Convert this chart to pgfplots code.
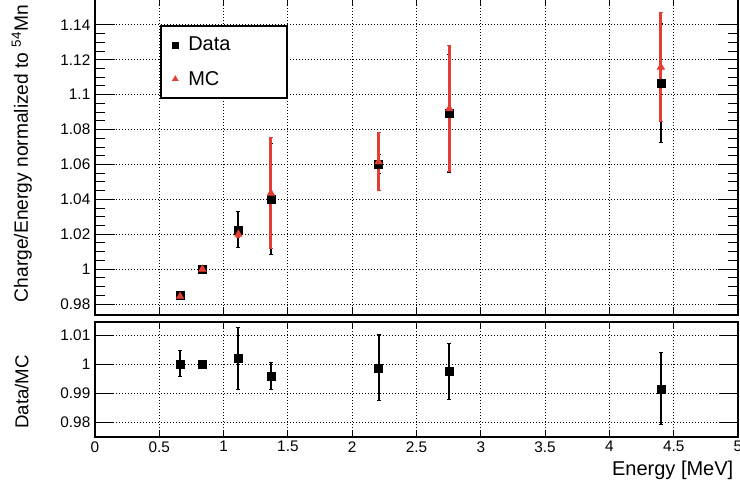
\documentclass[border=0pt]{standalone}
\usepackage{fontspec}
\setmainfont{Liberation Sans}
\usepackage{pgfplots}
\pgfplotsset{compat=1.18}
\definecolor{mcred}{RGB}{228,62,52}
\begin{document}
\begin{tikzpicture}
\pgfplotsset{
  rootframe/.style={
    scale only axis,
    width=482.25pt,
    xmin=0, xmax=5,
    axis line style={line width=1.5pt},
    tick align=inside,
    tick style={black, line width=0.75pt},
    grid=major,
    major grid style={black, line width=0.75pt, dash pattern=on 0.75pt off 1.5pt},
    /pgf/number format/assume math mode=true,
    tick label style={font=\fontsize{11.5}{13}\selectfont},
    xtick={0,0.5,1,1.5,2,2.5,3,3.5,4,4.5,5},
  },
  sqlegend/.style={legend image code/.code={\path (0pt,0pt) (14pt,0pt); \draw[##1, mark size=2.25pt] plot coordinates {(7pt,0pt)};}},
  trlegend/.style={legend image code/.code={\path (0pt,0pt) (14pt,0pt); \draw[##1, mark size=2.6pt] plot coordinates {(7pt,0pt)};}},
}
% ---------------- top panel ----------------
\begin{axis}[rootframe,
  at={(71.25pt,-236.25pt)}, anchor=south west,
  height=238.5pt,
  ymin=0.9737, ymax=1.156,
  ytick={0.98,1,1.02,1.04,1.06,1.08,1.1,1.12,1.14},
  minor y tick num=3,
  major tick length=15pt,
  minor tick length=7.5pt,
  xtick style={/pgfplots/major tick length=6pt},
  xticklabels={},
  ylabel={Charge/Energy normalized to \textsuperscript{54}Mn},
  ylabel style={at={(axis description cs:-0.114,0.508)}, anchor=center, font=\fontsize{14.4}{17}\selectfont},
  legend style={at={(axis description cs:0.101,0.912)}, anchor=north west,
    draw=black, line width=1.5pt, font=\fontsize{15}{18}\selectfont,
    inner xsep=3pt, inner ysep=6.25pt, row sep=9.75pt},
  legend cell align=left,
]
\addplot[only marks, mark=square*, mark size=3pt, black,
  mark options={line width=0.3pt}, sqlegend,
  error bars/.cd, y dir=both, y explicit,
  error bar style={black, line width=1.5pt},
  error mark options={rotate=90, black, mark size=1.5pt, line width=0.75pt}]
  coordinates {
  (0.662,0.9848) +- (0,0.0015)
  (0.835,1.0000) +- (0,0.0005)
  (1.115,1.0226) +- (0,0.0103)
  (1.368,1.0400) +- (0,0.0319)
  (2.205,1.0603) +- (0,0.0055)
  (2.755,1.0893) +- (0,0.0340)
  (4.400,1.1066) +- (0,0.0341)
  };
\addlegendentry{\makebox[69pt][l]{Data}}
\addplot[only marks, mark=triangle*, mark size=3.3pt, mcred,
  mark options={line width=0.3pt}, trlegend,
  error bars/.cd, y dir=both, y explicit,
  error bar style={mcred, line width=2.2pt},
  error mark options={rotate=90, mcred, mark size=1.5pt, line width=0.75pt}]
  coordinates {
  (0.662,0.9843) +- (0,0.0010)
  (0.835,1.0000) +- (0,0.0003)
  (1.115,1.0200) +- (0,0.0020)
  (1.368,1.0435) +- (0,0.0317)
  (2.205,1.0615) +- (0,0.0167)
  (2.755,1.0920) +- (0,0.0360)
  (4.400,1.1158) +- (0,0.0312)
  };
\addlegendentry{\makebox[69pt][l]{MC}}
\end{axis}
% ---------------- bottom panel ----------------
\begin{axis}[rootframe,
  at={(71.25pt,-327.5pt)}, anchor=south west,
  height=86pt,
  ymin=0.975, ymax=1.0147,
  ytick={0.98,0.99,1,1.01},
  major tick length=13.5pt,
  xtick style={/pgfplots/major tick length=4.5pt},
  xlabel={Energy [MeV]},
  xlabel style={at={(axis description cs:1,-0.29)}, anchor=east, font=\fontsize{15}{18}\selectfont},
  ylabel={Data/MC},
  ylabel style={at={(axis description cs:-0.114,0.39)}, anchor=center, font=\fontsize{14}{17}\selectfont},
]
\addplot[only marks, mark=square*, mark size=3pt, black,
  mark options={line width=0.3pt},
  error bars/.cd, y dir=both, y explicit,
  error bar style={black, line width=1.5pt},
  error mark options={rotate=90, black, mark size=1.5pt, line width=0.75pt}]
  coordinates {
  (0.662,1.0002) +- (0,0.0045)
  (0.835,1.0000) +- (0,0.0)
  (1.115,1.0022) +- (0,0.0107)
  (1.368,0.9961) +- (0,0.0046)
  (2.205,0.9988) +- (0,0.0114)
  (2.755,0.9977) +- (0,0.0097)
  (4.400,0.9916) +- (0,0.0124)
  };
\end{axis}
\pgfresetboundingbox
\path[use as bounding box] (0pt,0pt) rectangle (555pt,-369pt);
\end{tikzpicture}
\end{document}
